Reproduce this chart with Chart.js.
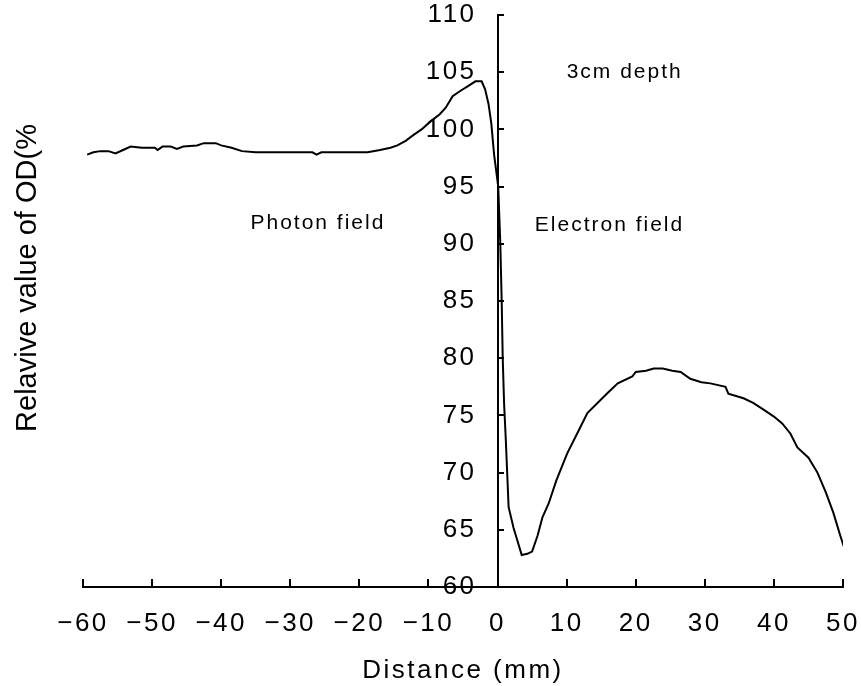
<!DOCTYPE html>
<html><head><meta charset="utf-8">
<script src="https://cdn.jsdelivr.net/npm/chart.js@4/dist/chart.umd.min.js"></script>
<style>html,body{margin:0;padding:0;background:#fff}#wrap{width:861px;height:686px}</style>
</head><body><div id="wrap"><canvas id="c" width="861" height="686"></canvas></div>
<script>
const distance = [-59.4,-58.5,-57.5,-56.3,-55.3,-54.2,-53.1,-51.5,-49.6,-49.2,-48.5,-47.3,-46.4,-45.5,-43.5,-42.5,-40.8,-40.0,-38.5,-37.0,-35.0,-30.0,-26.8,-26.2,-25.5,-20.0,-18.8,-17.0,-15.5,-14.5,-13.3,-12.2,-11.0,-9.7,-8.4,-7.5,-6.5,-5.3,-4.5,-3.2,-2.3,-1.8,-1.3,-0.9,-0.5,0.1,0.25,0.4,0.6,0.75,0.95,1.2,1.6,2.3,2.9,3.5,4.3,5.0,5.8,6.5,7.4,8.5,10.1,11.6,13.0,14.5,16.0,17.4,19.5,20.0,21.5,22.6,23.9,25.3,26.5,27.9,29.5,30.8,33.0,33.4,35.6,37.0,38.5,40.0,41.2,42.4,43.4,45.0,46.3,47.5,48.6,49.6,50.3];
const odValue = [97.8,98.0,98.1,98.1,97.9,98.2,98.5,98.4,98.4,98.2,98.5,98.5,98.3,98.5,98.6,98.8,98.8,98.6,98.4,98.1,98.0,98.0,98.0,97.8,98.0,98.0,98.0,98.2,98.4,98.6,99.0,99.5,100.0,100.7,101.3,101.9,102.9,103.4,103.7,104.2,104.2,103.5,102.2,100.5,97.8,95.0,92.5,90.0,85.0,80.0,76.0,72.8,67.0,65.2,64.0,62.8,62.9,63.1,64.5,66.1,67.3,69.3,71.7,73.5,75.2,76.1,77.0,77.8,78.4,78.8,78.9,79.1,79.1,78.9,78.8,78.2,77.9,77.8,77.5,76.9,76.5,76.1,75.5,74.9,74.3,73.4,72.2,71.3,70.0,68.3,66.5,64.5,63.2];
const xTicks = [-60,-50,-40,-30,-20,-10,0,10,20,30,40,50];
const yTicks = [60,65,70,75,80,85,90,95,100,105,110];
const xTitle = 'Distance (mm)';
const yTitle = 'Relavive value of OD(%';
const noteTexts = ['3cm depth','Photon field','Electron field'];
const noteX = [18.4,-26.0,16.2];
const noteY = [105.0,91.8,91.6];

const FONT = '"Liberation Sans", Arial, sans-serif';
function noPad(s){ s.paddingLeft=0; s.paddingRight=0; s.paddingTop=0; s.paddingBottom=0; }
const spacingPlugin = {
  id:'spacing',
  beforeUpdate(chart){ chart.ctx.letterSpacing='2.5px'; },
  beforeLayout(chart){ chart.ctx.letterSpacing='2.5px'; },
  beforeDraw(chart){
    chart.ctx.letterSpacing='2.5px';
    // offset y tick labels to the left of the centred axis
    const items = chart.scales.y.getLabelItems();
    items.forEach(it=>{ if(!it._shifted){ it.options.translation[0] -= 21; it._shifted=true; } });
  },
  afterDraw(chart){
    const ctx=chart.ctx, xs=chart.scales.x, ys=chart.scales.y;
    ctx.save();
    ctx.fillStyle='#000';
    ctx.letterSpacing='2px';
    ctx.font='21px '+FONT;
    ctx.textAlign='center'; ctx.textBaseline='middle';
    noteTexts.forEach((t,i)=>ctx.fillText(t, xs.getPixelForValue(noteX[i]), ys.getPixelForValue(noteY[i])));
    ctx.letterSpacing='0px';
    ctx.font='29px '+FONT;
    ctx.translate(28, 278);
    ctx.rotate(-Math.PI/2);
    ctx.fillText(yTitle,0,0);
    ctx.restore();
  }
};

new Chart(document.getElementById('c'), {
  type:'line',
  data:{datasets:[{data: distance.map((x,i)=>({x, y: odValue[i]})), borderColor:'#000', borderWidth:2, pointRadius:0, fill:false, tension:0}]},
  options:{
    responsive:false, animation:false,
    plugins:{legend:{display:false}, tooltip:{enabled:false}},
    layout:{padding:{left:83, right:18, top:15, bottom:0}},
    scales:{
      x:{type:'linear', position:'bottom', min:-60, max:50,
        afterBuildTicks:s=>{s.ticks=xTicks.map(v=>({value:v}));},
        afterFit:s=>{s.height=99; noPad(s);},
        grid:{display:true, drawOnChartArea:false, drawTicks:true, tickLength:-8, color:'#000', lineWidth:2},
        border:{display:true, color:'#000', width:2},
        ticks:{color:'#000', font:{family:FONT, size:26}, padding:29, maxRotation:0, autoSkip:false,
          callback:v=> v<0 ? '\u2212'+Math.abs(v) : String(v)},
        title:{display:true, text:xTitle, color:'#000', font:{family:FONT, size:26}, padding:{top:0,bottom:0}}
      },
      y:{type:'linear', position:{x:0}, min:60, max:110,
        afterBuildTicks:s=>{s.ticks=yTicks.map(v=>({value:v}));},
        afterFit:s=>{noPad(s);},
        grid:{display:true, drawOnChartArea:false, drawTicks:true, tickLength:-7, color:'#000', lineWidth:2},
        border:{display:true, color:'#000', width:2},
        ticks:{color:'#000', font:{family:FONT, size:26}, padding:0, autoSkip:false}
      }
    }
  },
  plugins:[spacingPlugin]
});
</script></body></html>
